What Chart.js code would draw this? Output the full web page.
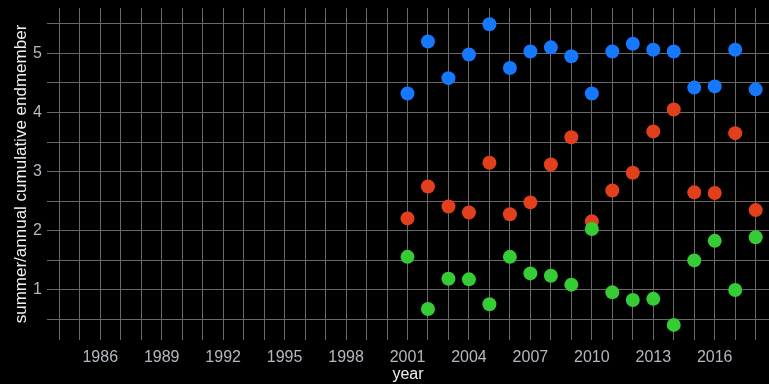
<!DOCTYPE html>
<html>
<head>
<meta charset="utf-8">
<title>summer/annual cumulative endmember</title>
<script src="https://cdn.jsdelivr.net/npm/chart.js@4/dist/chart.umd.min.js"></script>
<style>
    html, body { margin: 0; padding: 0; background: #000; }
    #wrap { width: 769px; height: 384px; position: relative; }
</style>
</head>
<body>
<div id="wrap"><canvas id="chart"></canvas></div>
<script>
// ── Data ─────────────────────────────────────────────────────────────────────
const years = [2001, 2002, 2003, 2004, 2005, 2006, 2007, 2008, 2009,
               2010, 2011, 2012, 2013, 2014, 2015, 2016, 2017, 2018];

const blueVals  = [4.32, 5.20, 4.58, 4.98, 5.49, 4.75, 5.03, 5.10, 4.95,
                   4.32, 5.03, 5.16, 5.06, 5.03, 4.42, 4.44, 5.06, 4.39];
const redVals   = [2.21, 2.75, 2.41, 2.31, 3.15, 2.28, 2.48, 3.12, 3.58,
                   2.16, 2.68, 2.98, 3.68, 4.05, 2.65, 2.64, 3.65, 2.35];
const greenVals = [1.56, 0.68, 1.19, 1.18, 0.76, 1.56, 1.28, 1.24, 1.09,
                   2.03, 0.96, 0.83, 0.85, 0.41, 1.50, 1.83, 1.00, 1.89];

// grid every year / every half unit, labels only on some of them
const xGridYears = [];
for (let y = 1984; y <= 2018; y++) xGridYears.push(y);
const xLabelYears = [1986, 1989, 1992, 1995, 1998, 2001, 2004, 2007, 2010, 2013, 2016];
const yGridVals  = [0.5, 1, 1.5, 2, 2.5, 3, 3.5, 4, 4.5, 5, 5.5];
const yLabelVals = [1, 2, 3, 4, 5];

const toPoints = vals => vals.map((v, i) => ({ x: years[i], y: v }));

// ── Chart ────────────────────────────────────────────────────────────────────
const GRID  = '#686868';
const TICK  = '#b4b8c0';
const FONT  = '"Liberation Sans", Arial, sans-serif';

const ds = (vals, color, order) => ({
    data: toPoints(vals),
    backgroundColor: color,
    borderWidth: 0,
    pointRadius: 7,
    pointHoverRadius: 7,
    order
});

// Let the plot run all the way to the right edge of the canvas
// (the layout keeps a few pixels there for the x labels).
const fullRight = {
    id: 'fullRight',
    afterLayout(chart) {
        const area = chart.chartArea;
        const x = chart.scales.x;
        area.right = chart.width;
        area.width = area.right - area.left;
        x.right = chart.width;
        x.width = x.right - x.left;
        x.configure();
    }
};

new Chart(document.getElementById('chart'), {
    type: 'scatter',
    data: {
        datasets: [
            ds(blueVals,  '#1677ff', 2),
            ds(redVals,   '#e2401c', 1),
            ds(greenVals, '#35cc35', 0)
        ]
    },
    plugins: [fullRight],
    options: {
        responsive: true,
        maintainAspectRatio: false,
        animation: false,
        layout: { padding: { top: 8, right: 0, left: 0, bottom: 0 } },
        plugins: {
            legend: { display: false },
            tooltip: { enabled: false }
        },
        scales: {
            x: {
                type: 'linear',
                min: 1983.4,
                max: 2018.65,
                afterBuildTicks: s => { s.ticks = xGridYears.map(v => ({ value: v })); },
                afterFit: s => { s.height = 44; },
                border: { display: false },
                grid: { color: GRID, lineWidth: 1, drawTicks: false },
                ticks: {
                    autoSkip: false,
                    maxRotation: 0,
                    padding: 8,
                    color: TICK,
                    font: { family: FONT, size: 16 },
                    callback: v => xLabelYears.includes(v) ? String(v) : ''
                },
                title: {
                    display: true,
                    text: 'year',
                    color: '#f2f2f2',
                    font: { family: FONT, size: 16 },
                    padding: { top: 0, bottom: 0 }
                }
            },
            y: {
                min: 0.155,
                max: 5.765,
                afterBuildTicks: s => { s.ticks = yGridVals.map(v => ({ value: v })); },
                afterFit: s => {
                    s.width = 47;
                    s.paddingTop = 0;
                    s.paddingBottom = 0;
                },
                border: { display: false },
                grid: { color: GRID, lineWidth: 1, drawTicks: false },
                ticks: {
                    autoSkip: false,
                    padding: 5,
                    color: TICK,
                    font: { family: FONT, size: 16 },
                    callback: v => yLabelVals.includes(v) ? String(v) : ''
                },
                title: {
                    display: true,
                    text: 'summer/annual cumulative endmember',
                    color: '#f2f2f2',
                    font: { family: FONT, size: 17 },
                    padding: { top: 11, bottom: 0 }
                }
            }
        }
    }
});
</script>
</body>
</html>
